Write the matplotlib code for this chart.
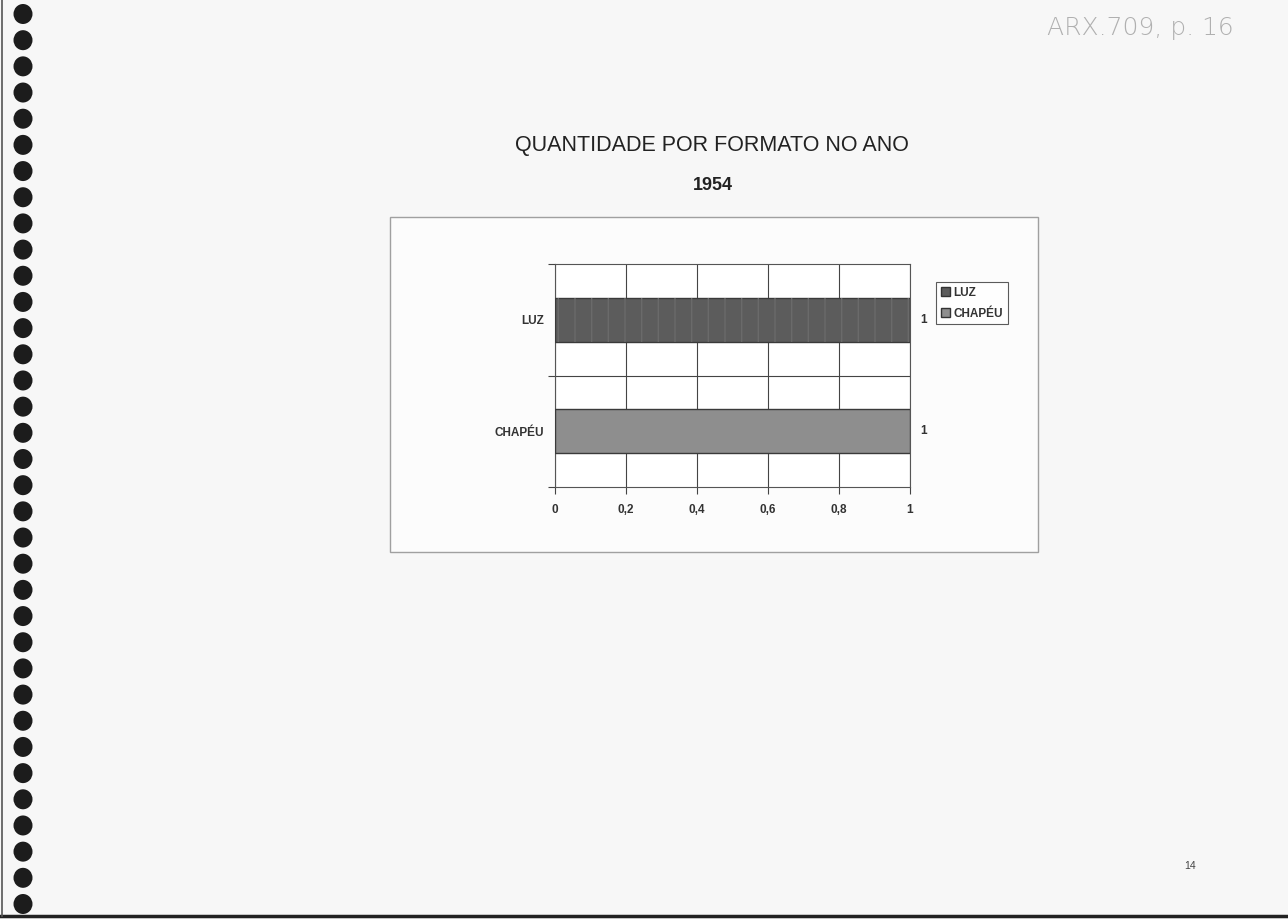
import numpy as np
import matplotlib
matplotlib.use("Agg")
import matplotlib.pyplot as plt
from matplotlib.patches import Rectangle, Ellipse, Patch
from matplotlib.lines import Line2D

# ---- data ----
categories = ["CHAPÉU", "LUZ"]          # bottom to top
values = [1, 1]
bar_colors = ["#8e8e8e", "#5c5c5c"]
xticks = [0, 0.2, 0.4, 0.6, 0.8, 1]
xtick_labels = ["0", "0,2", "0,4", "0,6", "0,8", "1"]
legend_labels = ["LUZ", "CHAPÉU"]
title = "QUANTIDADE POR FORMATO NO ANO"
subtitle = "1954"

plt.rcParams['font.family'] = ['Liberation Sans', 'DejaVu Sans']

W, H = 1288, 919
fig = plt.figure(figsize=(W / 100, H / 100), dpi=100)
fig.patch.set_facecolor("#f7f7f7")

def fx(px):
    return px / W

def fy(py):
    return 1 - py / H

# spiral binding holes
for y in np.linspace(14, 904, 35):
    fig.patches.append(Ellipse((fx(23), fy(y)), 19 / W, 20 / H, transform=fig.transFigure,
                               facecolor="#1c1c1c", edgecolor="none", zorder=-1))
# page edges
fig.add_artist(Line2D([0, 1], [fy(916), fy(916)], transform=fig.transFigure,
                      color="#222222", lw=2.5))
fig.add_artist(Line2D([fx(2), fx(2)], [fy(0), fy(916)], transform=fig.transFigure,
                      color="#555555", lw=1.2))

# chart box
fig.patches.append(Rectangle((fx(390), fy(552)), fx(1038) - fx(390), fy(217) - fy(552),
                             transform=fig.transFigure, facecolor="#fcfcfc",
                             edgecolor="#a0a0a0", lw=1.0, zorder=-1))

# titles
fig.text(fx(712), fy(146), title, ha="center", va="center", fontsize=15.5, color="#222222")
fig.text(fx(713), fy(186), subtitle, ha="center", va="center", fontsize=13,
         fontweight="bold", color="#222222")

# handwriting + page number
fig.text(fx(1140), fy(28), "ARX.709, p. 16", ha="center", va="center", fontsize=18,
         color="#b0b0b0", family=["DejaVu Sans"], fontweight="light")
fig.text(fx(1190), fy(866), "14", ha="center", va="center", fontsize=7.5, color="#444444")

# plot axes
ax = fig.add_axes([fx(555), fy(487), fx(910) - fx(555), fy(264) - fy(487)])
ax.set_zorder(2)
ax.set_facecolor("#ffffff")
ypos = np.arange(len(categories))
bars = ax.barh(ypos, values, height=0.395, color=bar_colors, edgecolor="#3a3a3a",
               linewidth=1.0, zorder=3)
# subtle vertical texture on the LUZ bar
ax.barh(ypos[1:], values[1:], height=0.395, color="none", edgecolor="#6a6a6a",
        hatch="|", linewidth=0, zorder=3.5)

tick_font = dict(fontsize=8.5, fontweight="bold", color="#333333")
ax.set_xlim(0, 1)
ax.set_ylim(-0.5, 1.5)
ax.set_xticks(xticks)
ax.set_xticklabels(xtick_labels, **tick_font)
ax.set_yticks(ypos)
ax.set_yticklabels(categories, **tick_font)
ax.set_yticks([-0.5, 0.5, 1.5], minor=True)
ax.tick_params(axis="y", which="major", length=0, pad=8)
ax.tick_params(axis="y", which="minor", length=5, width=0.8, color="#444444")
ax.tick_params(axis="x", length=5, width=0.8, color="#444444", pad=7)
ax.grid(axis="x", color="#444444", lw=0.8, zorder=1)
ax.axhline(0.5, color="#444444", lw=0.8, zorder=1)
for s in ax.spines.values():
    s.set_color("#555555")
    s.set_linewidth(0.8)

for b, v in zip(bars, values):
    ax.text(v + 0.03, b.get_y() + b.get_height() / 2, f"{v}", ha="left", va="center",
            clip_on=False, **tick_font)

handles = [Patch(facecolor=bar_colors[1], edgecolor="#333333"),
           Patch(facecolor=bar_colors[0], edgecolor="#333333")]
leg = fig.legend(handles, legend_labels, loc="upper left",
                 bbox_to_anchor=(fx(936), fy(282)), fontsize=8.5, frameon=True,
                 fancybox=False, edgecolor="#333333", handlelength=0.8, handleheight=0.8,
                 handletextpad=0.3, borderpad=0.4, labelspacing=0.75, borderaxespad=0)
leg.set_zorder(5)
leg.get_frame().set_linewidth(0.8)
for t in leg.get_texts():
    t.set_fontweight("bold")
    t.set_color("#333333")

fig.savefig("out.png", dpi=100, facecolor=fig.get_facecolor())
